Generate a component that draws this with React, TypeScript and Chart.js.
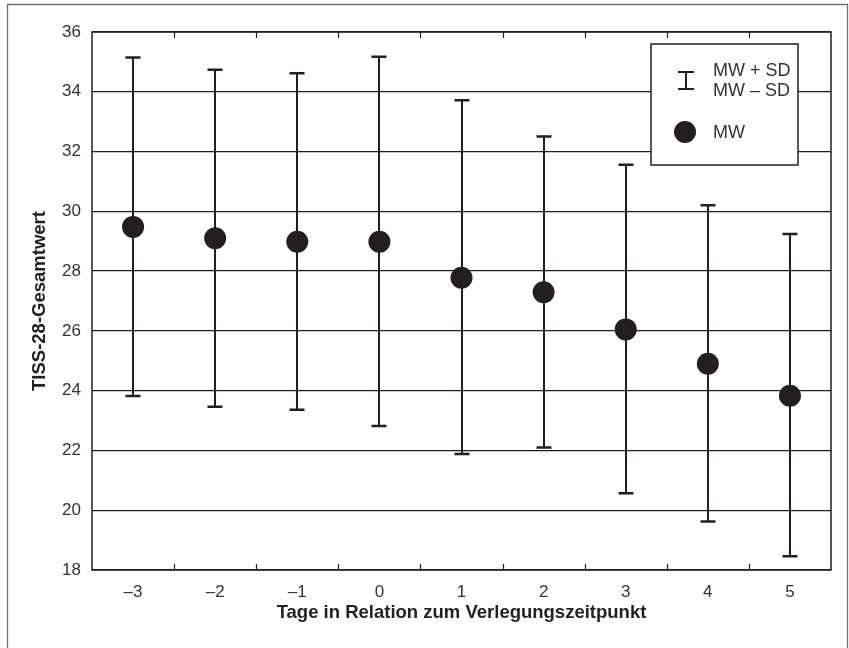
import React, { useEffect, useRef } from 'react';
import { Chart, registerables } from 'chart.js';

Chart.register(...registerables);

const categories = ['\u20133', '\u20132', '\u20131', '0', '1', '2', '3', '4', '5'];
const meanValues = [29.48, 29.1, 28.98, 28.98, 27.78, 27.29, 26.05, 24.9, 23.83];
const upperValues = [35.15, 34.74, 34.62, 35.17, 33.72, 32.5, 31.56, 30.2, 29.24];
const lowerValues = [23.82, 23.46, 23.36, 22.82, 21.88, 22.1, 20.57, 19.62, 18.46];
const yMin = 18;
const yMax = 36;
const yStep = 2;
const xTitle = 'Tage in Relation zum Verlegungszeitpunkt';
const yTitle = 'TISS-28-Gesamtwert';
const legendBarLabels = ['MW + SD', 'MW \u2013 SD'];
const legendPointLabel = 'MW';

const INK = '#231f20';
const TEXT = '#333333';
const FONT = "'Liberation Sans', Arial, Helvetica, sans-serif";

export default function App() {
  const ref = useRef<HTMLCanvasElement | null>(null);

  useEffect(() => {
    if (!ref.current) return;

    const errorBars = {
      id: 'errorBars',
      beforeDatasetsDraw(chart: any) {
        const { ctx } = chart;
        const xs = chart.scales.x;
        const ys = chart.scales.y;
        ctx.save();
        ctx.strokeStyle = INK;
        categories.forEach((_, i) => {
          const px = Math.round(xs.getPixelForValue(i));
          const yt = ys.getPixelForValue(upperValues[i]);
          const yb = ys.getPixelForValue(lowerValues[i]);
          ctx.lineWidth = 2;
          ctx.beginPath();
          ctx.moveTo(px, yt);
          ctx.lineTo(px, yb);
          ctx.stroke();
          ctx.lineWidth = 2.5;
          ctx.beginPath();
          ctx.moveTo(px - 7.5, yt);
          ctx.lineTo(px + 7.5, yt);
          ctx.moveTo(px - 7.5, yb);
          ctx.lineTo(px + 7.5, yb);
          ctx.stroke();
        });
        ctx.restore();
      },
    };

    const decorations = {
      id: 'decorations',
      afterDraw(chart: any) {
        const { ctx, chartArea, width, height } = chart;
        const { left, right, top, bottom } = chartArea;
        ctx.save();
        // plot frame
        ctx.strokeStyle = INK;
        ctx.lineWidth = 1.5;
        ctx.strokeRect(left, top, right - left, bottom - top);
        // inward ticks at category boundaries
        const n = categories.length;
        const w = (right - left) / n;
        ctx.lineWidth = 1.2;
        ctx.beginPath();
        for (let i = 1; i < n; i++) {
          const x = Math.round(left + i * w) + 0.5;
          ctx.moveTo(x, bottom);
          ctx.lineTo(x, bottom - 6);
          ctx.moveTo(x, top);
          ctx.lineTo(x, top + 6);
        }
        ctx.stroke();
        // outer figure frame
        ctx.strokeStyle = '#707070';
        ctx.lineWidth = 1.3;
        ctx.beginPath();
        ctx.moveTo(7.5, height);
        ctx.lineTo(7.5, 4.5);
        ctx.lineTo(width - 1.5, 4.5);
        ctx.lineTo(width - 1.5, height);
        ctx.stroke();
        // legend box
        const lx = right - 180;
        const ly = top + 12;
        const lw = 147;
        const lh = 121;
        ctx.fillStyle = '#ffffff';
        ctx.fillRect(lx, ly, lw, lh);
        ctx.strokeStyle = INK;
        ctx.lineWidth = 1.5;
        ctx.strokeRect(lx, ly, lw, lh);
        // error bar icon
        const ix = lx + 35;
        ctx.lineWidth = 2;
        ctx.beginPath();
        ctx.moveTo(ix, ly + 28);
        ctx.lineTo(ix, ly + 45);
        ctx.moveTo(ix - 8, ly + 28);
        ctx.lineTo(ix + 8, ly + 28);
        ctx.moveTo(ix - 8, ly + 45);
        ctx.lineTo(ix + 8, ly + 45);
        ctx.stroke();
        // point icon
        ctx.fillStyle = INK;
        ctx.beginPath();
        ctx.arc(ix - 1, ly + 88, 11, 0, Math.PI * 2);
        ctx.fill();
        // texts
        ctx.fillStyle = TEXT;
        ctx.font = `18px ${FONT}`;
        ctx.textAlign = 'left';
        ctx.textBaseline = 'middle';
        ctx.fillText(legendBarLabels[0], lx + 62, ly + 27);
        ctx.fillText(legendBarLabels[1], lx + 62, ly + 47);
        ctx.fillText(legendPointLabel, lx + 62, ly + 89);
        ctx.restore();
      },
    };

    const chart = new Chart(ref.current, {
      type: 'line',
      data: {
        labels: categories,
        datasets: [
          {
            label: legendPointLabel,
            data: meanValues,
            showLine: false,
            pointRadius: 11,
            pointHoverRadius: 11,
            pointBackgroundColor: INK,
            pointBorderWidth: 0,
            borderColor: INK,
            backgroundColor: INK,
          },
        ],
      },
      options: {
        animation: false,
        responsive: true,
        maintainAspectRatio: false,
        devicePixelRatio: 1,
        layout: { padding: { left: 0, top: 32, right: 18, bottom: 0 } },
        plugins: {
          legend: { display: false },
          tooltip: { enabled: false },
        },
        scales: {
          x: {
            type: 'category',
            offset: true,
            grid: { display: false, drawTicks: false },
            border: { display: false },
            ticks: {
              color: TEXT,
              font: { family: FONT, size: 17 },
              padding: 12,
              maxRotation: 0,
              autoSkip: false,
            },
            title: {
              display: true,
              text: xTitle,
              color: '#222222',
              font: { family: FONT, size: 18.5, weight: 'bold' },
              padding: { top: 0, bottom: 24 },
            },
            afterFit(scale: any) {
              scale.height = 78;
            },
          },
          y: {
            min: yMin,
            max: yMax,
            grid: { color: INK, lineWidth: 1.3, drawTicks: false },
            border: { display: false },
            ticks: {
              stepSize: yStep,
              color: TEXT,
              font: { family: FONT, size: 17 },
              padding: 11,
            },
            title: {
              display: true,
              text: yTitle,
              color: '#222222',
              font: { family: FONT, size: 18.5, weight: 'bold' },
              padding: { top: 29, bottom: 0 },
            },
            afterFit(scale: any) {
              scale.width = 92;
            },
          },
        },
      },
      plugins: [errorBars, decorations],
    });

    return () => chart.destroy();
  }, []);

  return (
    <div style={{ position: 'absolute', left: 0, top: 0, width: 849, height: 648, background: '#ffffff' }}>
      <canvas ref={ref} />
    </div>
  );
}
